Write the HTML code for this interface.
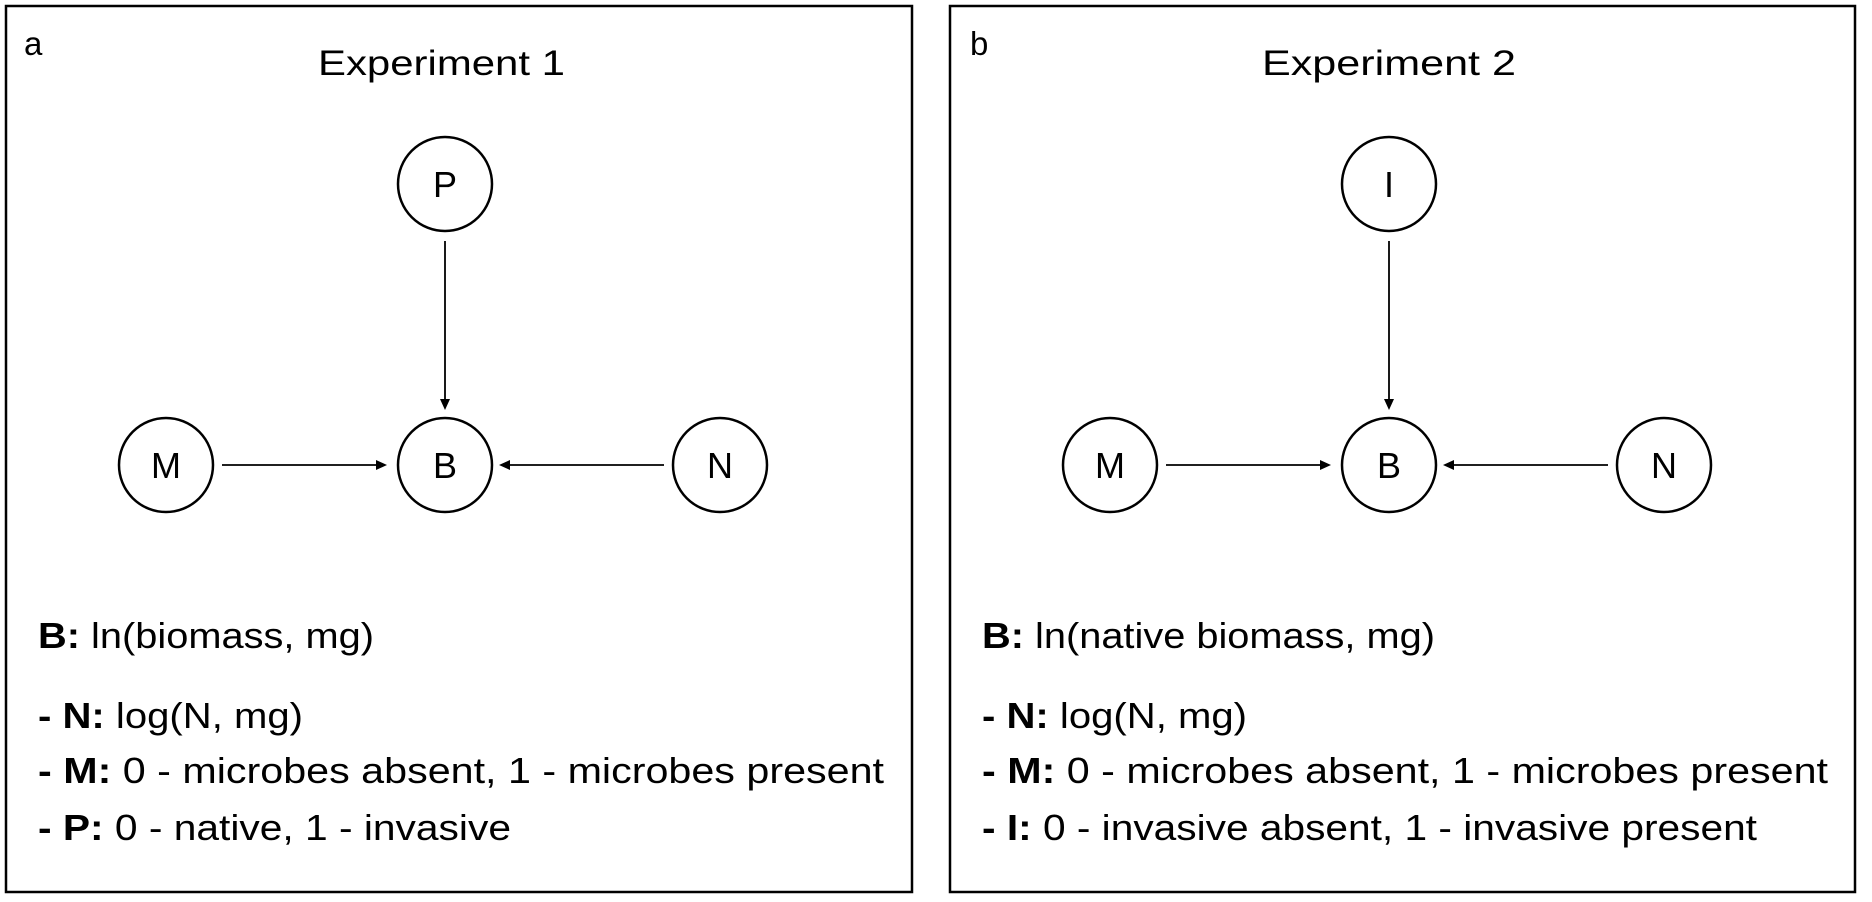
<!DOCTYPE html>
<html><head><meta charset="utf-8"><style>html,body{margin:0;padding:0;background:#fff}svg{display:block}</style></head>
<body>
<svg width="1872" height="902" viewBox="0 0 1872 902" xmlns="http://www.w3.org/2000/svg" font-family="Liberation Sans, Arial, sans-serif" fill="#000">
<defs>
<g id="arr"><path d="M0,0 L-11,-5 L-11,5 Z" fill="#000"/></g>
</defs>
<rect x="6" y="6" width="906" height="886" fill="none" stroke="#000" stroke-width="2.5"/>
<rect x="950" y="6" width="905" height="886" fill="none" stroke="#000" stroke-width="2.5"/>

<g id="left">
<text x="24" y="55" font-size="33">a</text>
<text x="318" y="75" font-size="35" textLength="247" lengthAdjust="spacingAndGlyphs">Experiment 1</text>
<g fill="none" stroke="#000" stroke-width="2.5">
<circle cx="445" cy="184" r="47"/>
<circle cx="166" cy="465" r="47"/>
<circle cx="445" cy="465" r="47"/>
<circle cx="720" cy="465" r="47"/>
</g>
<g stroke="#000" stroke-width="1.8">
<line x1="445" y1="241" x2="445" y2="400"/>
<line x1="222" y1="465" x2="376" y2="465"/>
<line x1="664" y1="465" x2="510" y2="465"/>
</g>
<use href="#arr" transform="translate(445,410) rotate(90)"/>
<use href="#arr" transform="translate(387,465)"/>
<use href="#arr" transform="translate(499,465) rotate(180)"/>
<g font-size="36" text-anchor="middle">
<text x="445" y="197">P</text>
<text x="166" y="478">M</text>
<text x="445" y="478">B</text>
<text x="720" y="478">N</text>
</g>
<g font-size="36">
<text x="38" y="648" textLength="336" lengthAdjust="spacingAndGlyphs"><tspan font-weight="bold">B:</tspan> ln(biomass, mg)</text>
<text x="38" y="728" textLength="265" lengthAdjust="spacingAndGlyphs"><tspan font-weight="bold">- N:</tspan> log(N, mg)</text>
<text x="38" y="783" textLength="846" lengthAdjust="spacingAndGlyphs"><tspan font-weight="bold">- M:</tspan> 0 - microbes absent, 1 - microbes present</text>
<text x="38" y="840" textLength="473" lengthAdjust="spacingAndGlyphs"><tspan font-weight="bold">- P:</tspan> 0 - native, 1 - invasive</text>
</g>
</g>

<g transform="translate(944,0)">
<text x="26" y="55" font-size="33">b</text>
<text x="318" y="75" font-size="35" textLength="254" lengthAdjust="spacingAndGlyphs">Experiment 2</text>
<g fill="none" stroke="#000" stroke-width="2.5">
<circle cx="445" cy="184" r="47"/>
<circle cx="166" cy="465" r="47"/>
<circle cx="445" cy="465" r="47"/>
<circle cx="720" cy="465" r="47"/>
</g>
<g stroke="#000" stroke-width="1.8">
<line x1="445" y1="241" x2="445" y2="400"/>
<line x1="222" y1="465" x2="376" y2="465"/>
<line x1="664" y1="465" x2="510" y2="465"/>
</g>
<use href="#arr" transform="translate(445,410) rotate(90)"/>
<use href="#arr" transform="translate(387,465)"/>
<use href="#arr" transform="translate(499,465) rotate(180)"/>
<g font-size="36" text-anchor="middle">
<text x="445" y="197">I</text>
<text x="166" y="478">M</text>
<text x="445" y="478">B</text>
<text x="720" y="478">N</text>
</g>
<g font-size="36">
<text x="38" y="648" textLength="453" lengthAdjust="spacingAndGlyphs"><tspan font-weight="bold">B:</tspan> ln(native biomass, mg)</text>
<text x="38" y="728" textLength="265" lengthAdjust="spacingAndGlyphs"><tspan font-weight="bold">- N:</tspan> log(N, mg)</text>
<text x="38" y="783" textLength="846" lengthAdjust="spacingAndGlyphs"><tspan font-weight="bold">- M:</tspan> 0 - microbes absent, 1 - microbes present</text>
<text x="38" y="840" textLength="775" lengthAdjust="spacingAndGlyphs"><tspan font-weight="bold">- I:</tspan> 0 - invasive absent, 1 - invasive present</text>
</g>
</g>
</svg>
</body></html>
